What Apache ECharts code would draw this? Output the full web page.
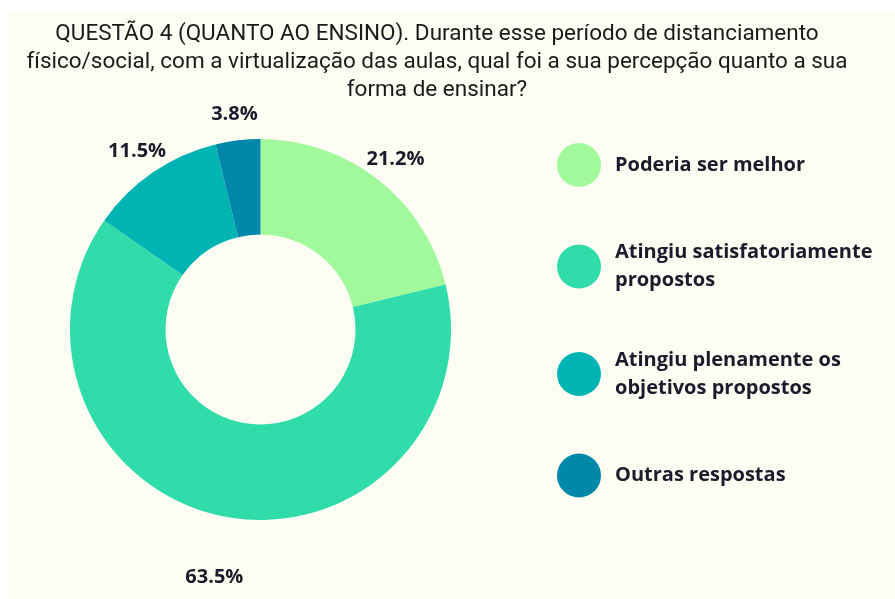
<!DOCTYPE html>
<html><head><meta charset="utf-8">
<script src="https://cdn.jsdelivr.net/npm/echarts@6/dist/echarts.min.js"></script>
<style>html,body{margin:0;padding:0;background:#fff}#c{width:895px;height:599px}</style>
</head><body><div id="c"></div>
<script>
const titleLines = [
  'QUESTÃO 4 (QUANTO AO ENSINO). Durante esse período de distanciamento',
  'físico/social, com a virtualização das aulas, qual foi a sua percepção quanto a sua',
  'forma de ensinar?'
];
const categories = [
  'Poderia ser melhor',
  'Atingiu satisfatoriamente\npropostos',
  'Atingiu plenamente os\nobjetivos propostos',
  'Outras respostas'
];
const values = [21.2, 63.5, 11.5, 3.8];
const colors = ['#a1f99b', '#2fdcaa', '#00b4b4', '#0088ab'];

const CX = 260.5, CY = 329.5;
const chart = echarts.init(document.getElementById('c'), null, {renderer: 'canvas'});
chart.setOption({
  backgroundColor: '#ffffff',
  animation: false,
  graphic: [{
    type: 'rect', z: -10, silent: true,
    shape: {x: 8, y: 10, width: 900, height: 600},
    style: {fill: '#fdfdf4'}
  }],
  title: {
    text: titleLines.join('\n'),
    left: 437,
    textAlign: 'center',
    top: 20,
    padding: 0,
    textStyle: {
      fontFamily: 'Roboto', fontSize: 22.5, fontWeight: 'normal',
      color: '#1a1a1a', lineHeight: 28, align: 'center'
    }
  },
  legend: {
    orient: 'vertical',
    left: 557, top: 143,
    padding: 0,
    icon: 'circle',
    itemWidth: 44, itemHeight: 44, itemGap: 51.5,
    selectedMode: false,
    textStyle: {
      fontFamily: 'Open Sans', fontWeight: 'bold', fontSize: 20,
      color: '#1b1b2b', lineHeight: 28, padding: [0, 0, 0, 9]
    },
    data: categories
  },
  series: [{
    type: 'pie',
    center: [CX, CY],
    radius: [95, 190.5],
    startAngle: 90,
    clockwise: true,
    avoidLabelOverlap: false,
    emphasis: {disabled: true},
    label: {
      show: true, position: 'outside', formatter: '{c}%',
      fontFamily: 'Open Sans', fontWeight: 'bold', fontSize: 20, color: '#1b1b2b'
    },
    labelLine: {show: false, length: 28, length2: 0},
    labelLayout: function (p) {
      const w = p.labelRect.width;
      const isLeft = p.align ? p.align === 'left' : (p.labelRect.x + w / 2 > CX);
      return {dx: isLeft ? -(w / 2 + 5) : (w / 2 + 5), dy: 2};
    },
    data: categories.map((name, i) => ({
      name: name,
      value: values[i],
      itemStyle: {color: colors[i]},
      labelLine: i === 1 ? {length: 60} : undefined
    }))
  }]
});
</script>
</body></html>
